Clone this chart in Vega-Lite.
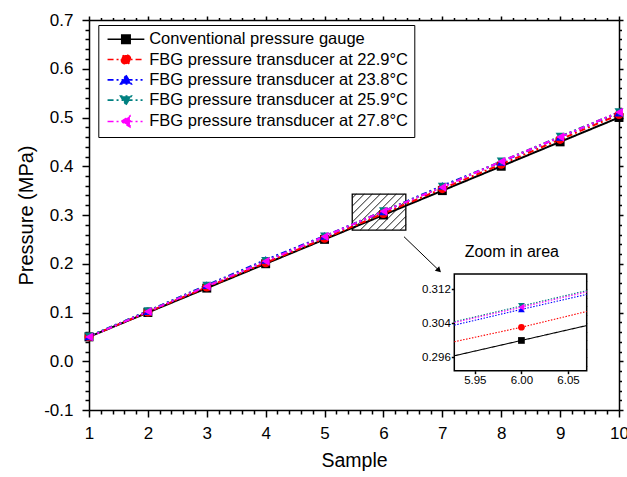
{
  "$schema": "https://vega.github.io/schema/vega-lite/v6.json",
  "width": 530,
  "height": 390,
  "autosize": {"type": "none"},
  "padding": {"left": 89, "top": 20, "right": 8, "bottom": 67},
  "background": "white",
  "config": {
    "font": "Liberation Sans",
    "view": {"stroke": null},
    "axis": {"grid": false, "domainColor": "#000000", "domainWidth": 1.5, "tickColor": "#000000", "tickWidth": 1.5, "labelColor": "#000000", "titleColor": "#000000", "labelFont": "Liberation Sans", "titleFont": "Liberation Sans", "titleFontWeight": "normal", "labelFlush": false, "labelOverlap": false},
    "legend": {"labelFont": "Liberation Sans", "labelColor": "#000000"}
  },
  "datasets": {
    "main": [
      {"s": "Conventional pressure gauge", "x": 1, "y": 0.05}, {"s": "Conventional pressure gauge", "x": 2, "y": 0.10}, {"s": "Conventional pressure gauge", "x": 3, "y": 0.15}, {"s": "Conventional pressure gauge", "x": 4, "y": 0.20}, {"s": "Conventional pressure gauge", "x": 5, "y": 0.25}, {"s": "Conventional pressure gauge", "x": 6, "y": 0.300}, {"s": "Conventional pressure gauge", "x": 7, "y": 0.35}, {"s": "Conventional pressure gauge", "x": 8, "y": 0.40}, {"s": "Conventional pressure gauge", "x": 9, "y": 0.45}, {"s": "Conventional pressure gauge", "x": 10, "y": 0.50},
      {"s": "FBG pressure transducer at 22.9°C", "x": 1, "y": 0.050}, {"s": "FBG pressure transducer at 22.9°C", "x": 2, "y": 0.101}, {"s": "FBG pressure transducer at 22.9°C", "x": 3, "y": 0.152}, {"s": "FBG pressure transducer at 22.9°C", "x": 4, "y": 0.202}, {"s": "FBG pressure transducer at 22.9°C", "x": 5, "y": 0.252}, {"s": "FBG pressure transducer at 22.9°C", "x": 6, "y": 0.3031}, {"s": "FBG pressure transducer at 22.9°C", "x": 7, "y": 0.354}, {"s": "FBG pressure transducer at 22.9°C", "x": 8, "y": 0.404}, {"s": "FBG pressure transducer at 22.9°C", "x": 9, "y": 0.455}, {"s": "FBG pressure transducer at 22.9°C", "x": 10, "y": 0.506},
      {"s": "FBG pressure transducer at 23.8°C", "x": 1, "y": 0.051}, {"s": "FBG pressure transducer at 23.8°C", "x": 2, "y": 0.103}, {"s": "FBG pressure transducer at 23.8°C", "x": 3, "y": 0.156}, {"s": "FBG pressure transducer at 23.8°C", "x": 4, "y": 0.208}, {"s": "FBG pressure transducer at 23.8°C", "x": 5, "y": 0.257}, {"s": "FBG pressure transducer at 23.8°C", "x": 6, "y": 0.3073}, {"s": "FBG pressure transducer at 23.8°C", "x": 7, "y": 0.360}, {"s": "FBG pressure transducer at 23.8°C", "x": 8, "y": 0.409}, {"s": "FBG pressure transducer at 23.8°C", "x": 9, "y": 0.460}, {"s": "FBG pressure transducer at 23.8°C", "x": 10, "y": 0.510},
      {"s": "FBG pressure transducer at 25.9°C", "x": 1, "y": 0.051}, {"s": "FBG pressure transducer at 25.9°C", "x": 2, "y": 0.103}, {"s": "FBG pressure transducer at 25.9°C", "x": 3, "y": 0.155}, {"s": "FBG pressure transducer at 25.9°C", "x": 4, "y": 0.206}, {"s": "FBG pressure transducer at 25.9°C", "x": 5, "y": 0.256}, {"s": "FBG pressure transducer at 25.9°C", "x": 6, "y": 0.3081}, {"s": "FBG pressure transducer at 25.9°C", "x": 7, "y": 0.358}, {"s": "FBG pressure transducer at 25.9°C", "x": 8, "y": 0.410}, {"s": "FBG pressure transducer at 25.9°C", "x": 9, "y": 0.461}, {"s": "FBG pressure transducer at 25.9°C", "x": 10, "y": 0.511},
      {"s": "FBG pressure transducer at 27.8°C", "x": 1, "y": 0.050}, {"s": "FBG pressure transducer at 27.8°C", "x": 2, "y": 0.102}, {"s": "FBG pressure transducer at 27.8°C", "x": 3, "y": 0.154}, {"s": "FBG pressure transducer at 27.8°C", "x": 4, "y": 0.205}, {"s": "FBG pressure transducer at 27.8°C", "x": 5, "y": 0.256}, {"s": "FBG pressure transducer at 27.8°C", "x": 6, "y": 0.3078}, {"s": "FBG pressure transducer at 27.8°C", "x": 7, "y": 0.357}, {"s": "FBG pressure transducer at 27.8°C", "x": 8, "y": 0.410}, {"s": "FBG pressure transducer at 27.8°C", "x": 9, "y": 0.460}, {"s": "FBG pressure transducer at 27.8°C", "x": 10, "y": 0.511}
    ],
    "inset": [
      {"s": "Conventional pressure gauge", "x": 5.928, "y": 0.2964}, {"s": "Conventional pressure gauge", "x": 6.0, "y": 0.3000}, {"s": "Conventional pressure gauge", "x": 6.07, "y": 0.3035},
      {"s": "FBG pressure transducer at 22.9°C", "x": 5.928, "y": 0.2997}, {"s": "FBG pressure transducer at 22.9°C", "x": 6.0, "y": 0.3031}, {"s": "FBG pressure transducer at 22.9°C", "x": 6.07, "y": 0.3068},
      {"s": "FBG pressure transducer at 23.8°C", "x": 5.928, "y": 0.3036}, {"s": "FBG pressure transducer at 23.8°C", "x": 6.0, "y": 0.3073}, {"s": "FBG pressure transducer at 23.8°C", "x": 6.07, "y": 0.3108},
      {"s": "FBG pressure transducer at 25.9°C", "x": 5.928, "y": 0.3044}, {"s": "FBG pressure transducer at 25.9°C", "x": 6.0, "y": 0.3081}, {"s": "FBG pressure transducer at 25.9°C", "x": 6.07, "y": 0.3117},
      {"s": "FBG pressure transducer at 27.8°C", "x": 5.928, "y": 0.3042}, {"s": "FBG pressure transducer at 27.8°C", "x": 6.0, "y": 0.3078}, {"s": "FBG pressure transducer at 27.8°C", "x": 6.07, "y": 0.3114}
    ],
    "box": [{"x1": 5.47, "x2": 6.38, "y1": 0.269, "y2": 0.343}],
    "hatch": [
      {"x1": 5.47, "y1": 0.3346, "x2": 5.5396, "y2": 0.343},
      {"x1": 5.47, "y1": 0.3182, "x2": 5.6755, "y2": 0.343},
      {"x1": 5.47, "y1": 0.3018, "x2": 5.8113, "y2": 0.343},
      {"x1": 5.47, "y1": 0.2854, "x2": 5.9472, "y2": 0.343},
      {"x1": 5.47, "y1": 0.269, "x2": 6.083, "y2": 0.343},
      {"x1": 5.6058, "y1": 0.269, "x2": 6.2189, "y2": 0.343},
      {"x1": 5.7417, "y1": 0.269, "x2": 6.3547, "y2": 0.343},
      {"x1": 5.8775, "y1": 0.269, "x2": 6.38, "y2": 0.3297},
      {"x1": 6.0134, "y1": 0.269, "x2": 6.38, "y2": 0.3133},
      {"x1": 6.1492, "y1": 0.269, "x2": 6.38, "y2": 0.2969},
      {"x1": 6.2851, "y1": 0.269, "x2": 6.38, "y2": 0.2805}
    ],
    "arrow": [{"x1": 6.349, "y1": 0.2555, "x2": 6.943, "y2": 0.1864}],
    "note": [{"x": 8.18, "y": 0.224, "t": "Zoom in area"}],
    "insetbox": [{"x1": 5.928, "x2": 6.07, "y1": 0.2929, "y2": 0.3156}]
  },
  "layer": [
    {
      "layer": [
        {
          "data": {"name": "box"},
          "mark": {"type": "rect", "fill": "transparent", "stroke": "#000000", "strokeWidth": 1.3},
          "encoding": {
            "x": {"field": "x1", "type": "quantitative", "scale": {"domain": [1, 10], "nice": false, "zero": false}, "axis": null},
            "x2": {"field": "x2"},
            "y": {"field": "y1", "type": "quantitative", "scale": {"domain": [-0.1, 0.7], "nice": false, "zero": false}, "axis": null},
            "y2": {"field": "y2"}
          }
        },
        {
          "data": {"name": "hatch"},
          "mark": {"type": "rule", "color": "#000000", "strokeWidth": 0.9},
          "encoding": {
            "x": {"field": "x1", "type": "quantitative", "scale": {"domain": [1, 10], "nice": false, "zero": false}, "axis": null},
            "x2": {"field": "x2"},
            "y": {"field": "y1", "type": "quantitative", "scale": {"domain": [-0.1, 0.7], "nice": false, "zero": false}, "axis": null},
            "y2": {"field": "y2"}
          }
        },
        {
          "data": {"name": "arrow"},
          "mark": {"type": "rule", "color": "#000000", "strokeWidth": 1},
          "encoding": {
            "x": {"field": "x1", "type": "quantitative", "scale": {"domain": [1, 10], "nice": false, "zero": false}, "axis": null},
            "x2": {"field": "x2"},
            "y": {"field": "y1", "type": "quantitative", "scale": {"domain": [-0.1, 0.7], "nice": false, "zero": false}, "axis": null},
            "y2": {"field": "y2"}
          }
        },
        {
          "data": {"name": "arrow"},
          "mark": {"type": "point", "shape": "triangle-up", "filled": true, "color": "#000000", "size": 40, "angle": 134, "opacity": 1},
          "encoding": {
            "x": {"field": "x2", "type": "quantitative", "scale": {"domain": [1, 10], "nice": false, "zero": false}, "axis": null},
            "y": {"field": "y2", "type": "quantitative", "scale": {"domain": [-0.1, 0.7], "nice": false, "zero": false}, "axis": null}
          }
        },
        {
          "data": {"name": "note"},
          "mark": {"type": "text", "font": "Liberation Sans", "fontSize": 16, "color": "#000000", "align": "center", "baseline": "middle"},
          "encoding": {
            "x": {"field": "x", "type": "quantitative", "scale": {"domain": [1, 10], "nice": false, "zero": false}, "axis": null},
            "y": {"field": "y", "type": "quantitative", "scale": {"domain": [-0.1, 0.7], "nice": false, "zero": false}, "axis": null},
            "text": {"field": "t"}
          }
        },
        {
          "data": {"name": "main"},
          "mark": {"type": "line", "strokeWidth": 2},
          "encoding": {
            "x": {"field": "x", "type": "quantitative", "scale": {"domain": [1, 10], "nice": false, "zero": false}, "axis": null},
            "y": {"field": "y", "type": "quantitative", "scale": {"domain": [-0.1, 0.7], "nice": false, "zero": false}, "axis": null},
            "color": {"field": "s", "type": "nominal", "scale": {"domain": ["Conventional pressure gauge", "FBG pressure transducer at 22.9°C", "FBG pressure transducer at 23.8°C", "FBG pressure transducer at 25.9°C", "FBG pressure transducer at 27.8°C"], "range": ["#000000", "#ff0000", "#0000ff", "#008080", "#ff00ff"]}, "legend": null},
            "strokeDash": {"field": "s", "type": "nominal", "scale": {"domain": ["Conventional pressure gauge", "FBG pressure transducer at 22.9°C", "FBG pressure transducer at 23.8°C", "FBG pressure transducer at 25.9°C", "FBG pressure transducer at 27.8°C"], "range": [[1, 0], [6, 3, 2, 3], [6, 3, 2, 3, 2, 3], [6, 3, 2, 3, 2, 3], [6, 3, 2, 3, 2, 3]]}, "legend": null}
          }
        },
        {
          "data": {"name": "main"},
          "mark": {"type": "point", "filled": true, "size": 80, "opacity": 1},
          "encoding": {
            "x": {"field": "x", "type": "quantitative", "scale": {"domain": [1, 10], "nice": false, "zero": false}, "axis": null},
            "y": {"field": "y", "type": "quantitative", "scale": {"domain": [-0.1, 0.7], "nice": false, "zero": false}, "axis": null},
            "color": {"field": "s", "type": "nominal", "scale": {"domain": ["Conventional pressure gauge", "FBG pressure transducer at 22.9°C", "FBG pressure transducer at 23.8°C", "FBG pressure transducer at 25.9°C", "FBG pressure transducer at 27.8°C"], "range": ["#000000", "#ff0000", "#0000ff", "#008080", "#ff00ff"]}, "legend": null},
            "shape": {"field": "s", "type": "nominal", "scale": {"domain": ["Conventional pressure gauge", "FBG pressure transducer at 22.9°C", "FBG pressure transducer at 23.8°C", "FBG pressure transducer at 25.9°C", "FBG pressure transducer at 27.8°C"], "range": ["square", "circle", "triangle-up", "triangle-down", "triangle-left"]}, "legend": null}
          }
        },
        {
          "data": {"name": "main"},
          "mark": {"type": "point", "filled": true, "opacity": 0},
          "encoding": {
            "x": {"field": "x", "type": "quantitative", "scale": {"domain": [1, 10], "nice": false, "zero": false}, "axis": null},
            "y": {"field": "y", "type": "quantitative", "scale": {"domain": [-0.1, 0.7], "nice": false, "zero": false}, "axis": null},
            "color": {"field": "s", "type": "nominal", "scale": {"domain": ["Conventional pressure gauge", "FBG pressure transducer at 22.9°C", "FBG pressure transducer at 23.8°C", "FBG pressure transducer at 25.9°C", "FBG pressure transducer at 27.8°C"], "range": ["#000000", "#ff0000", "#0000ff", "#008080", "#ff00ff"]},
              "legend": {"title": null, "orient": "none", "legendX": 9.3, "legendY": 5, "padding": 6, "strokeColor": "#000000", "fillColor": "#ffffff", "labelFontSize": 16.5, "labelLimit": 500, "symbolSize": 64, "symbolOffset": 13.4, "labelOffset": 15, "rowPadding": 3.3, "symbolStrokeWidth": 1.6, "symbolOpacity": 1,
                "encode": {"symbols": {"update": {"stroke": {"signal": "['#000000','#ff0000','#0000ff','#008080','#ff00ff'][indexof(['Conventional pressure gauge','FBG pressure transducer at 22.9°C','FBG pressure transducer at 23.8°C','FBG pressure transducer at 25.9°C','FBG pressure transducer at 27.8°C'], datum.value)]"}}}}}},
            "shape": {"field": "s", "type": "nominal", "scale": {"domain": ["Conventional pressure gauge", "FBG pressure transducer at 22.9°C", "FBG pressure transducer at 23.8°C", "FBG pressure transducer at 25.9°C", "FBG pressure transducer at 27.8°C"], "range": ["M-4.6,0H4.6M-1.05,-1.05H1.05V1.05H-1.05Z", "M-4.6,0H4.6M-1.15,0A1.15,1.15,0,1,0,1.15,0A1.15,1.15,0,1,0,-1.15,0Z", "M-4.6,0H4.6M0,-1.15L1.35,1H-1.35Z", "M-4.6,0H4.6M0,1.15L1.35,-1H-1.35Z", "M-4.6,0H4.6M-1.15,0L1,-1.35V1.35Z"]}, "legend": {"title": null}},
            "strokeDash": {"field": "s", "type": "nominal", "scale": {"domain": ["Conventional pressure gauge", "FBG pressure transducer at 22.9°C", "FBG pressure transducer at 23.8°C", "FBG pressure transducer at 25.9°C", "FBG pressure transducer at 27.8°C"], "range": [[1, 0], [6, 3, 2, 3], [6, 3, 2, 3, 2, 3], [6, 3, 2, 3, 2, 3], [6, 3, 2, 3, 2, 3]]}, "legend": {"title": null}}
          }
        },
        {
          "data": {"name": "main"},
          "mark": {"type": "point", "opacity": 0},
          "encoding": {
            "x": {"field": "x", "type": "quantitative", "scale": {"domain": [1, 10], "nice": false, "zero": false},
              "axis": {"orient": "bottom", "values": [1, 2, 3, 4, 5, 6, 7, 8, 9, 10], "format": "d", "labelFontSize": 17, "tickSize": 7, "labelPadding": 8, "title": "Sample", "titleFontSize": 19.5, "titlePadding": 10}},
            "y": {"field": "y", "type": "quantitative", "scale": {"domain": [-0.1, 0.7], "nice": false, "zero": false},
              "axis": {"orient": "left", "values": [-0.1, 0, 0.1, 0.2, 0.3, 0.4, 0.5, 0.6, 0.7], "labelExpr": "replace(format(datum.value, '.1f'), '\u2212', '-')", "labelFontSize": 17, "tickSize": 7, "labelPadding": 9, "title": "Pressure (MPa)", "titleFontSize": 20, "titlePadding": 7}}
          }
        },
        {
          "data": {"name": "main"},
          "mark": {"type": "point", "opacity": 0},
          "encoding": {
            "x": {"field": "x", "type": "quantitative", "scale": {"domain": [1, 10], "nice": false, "zero": false},
              "axis": {"orient": "bottom", "values": [1.2, 1.4, 1.6, 1.8, 2.2, 2.4, 2.6, 2.8, 3.2, 3.4, 3.6, 3.8, 4.2, 4.4, 4.6, 4.8, 5.2, 5.4, 5.6, 5.8, 6.2, 6.4, 6.6, 6.8, 7.2, 7.4, 7.6, 7.8, 8.2, 8.4, 8.6, 8.8, 9.2, 9.4, 9.6, 9.8], "labels": false, "domain": false, "tickSize": 4, "title": null}},
            "y": {"field": "y", "type": "quantitative", "scale": {"domain": [-0.1, 0.7], "nice": false, "zero": false},
              "axis": {"orient": "left", "values": [-0.08, -0.06, -0.04, -0.02, 0.02, 0.04, 0.06, 0.08, 0.12, 0.14, 0.16, 0.18, 0.22, 0.24, 0.26, 0.28, 0.32, 0.34, 0.36, 0.38, 0.42, 0.44, 0.46, 0.48, 0.52, 0.54, 0.56, 0.58, 0.62, 0.64, 0.66, 0.68], "labels": false, "domain": false, "tickSize": 4, "title": null}}
          }
        },
        {
          "data": {"name": "main"},
          "mark": {"type": "point", "opacity": 0},
          "encoding": {
            "x": {"field": "x", "type": "quantitative", "scale": {"domain": [1, 10], "nice": false, "zero": false},
              "axis": {"orient": "top", "values": [1, 2, 3, 4, 5, 6, 7, 8, 9, 10], "labels": false, "tickSize": 4, "title": null}},
            "y": {"field": "y", "type": "quantitative", "scale": {"domain": [-0.1, 0.7], "nice": false, "zero": false},
              "axis": {"orient": "right", "values": [-0.1, 0, 0.1, 0.2, 0.3, 0.4, 0.5, 0.6, 0.7], "labels": false, "tickSize": 4, "title": null}}
          }
        },
        {
          "data": {"name": "main"},
          "mark": {"type": "point", "opacity": 0},
          "encoding": {
            "x": {"field": "x", "type": "quantitative", "scale": {"domain": [1, 10], "nice": false, "zero": false},
              "axis": {"orient": "top", "values": [1.2, 1.4, 1.6, 1.8, 2.2, 2.4, 2.6, 2.8, 3.2, 3.4, 3.6, 3.8, 4.2, 4.4, 4.6, 4.8, 5.2, 5.4, 5.6, 5.8, 6.2, 6.4, 6.6, 6.8, 7.2, 7.4, 7.6, 7.8, 8.2, 8.4, 8.6, 8.8, 9.2, 9.4, 9.6, 9.8], "labels": false, "domain": false, "tickSize": 2.5, "title": null}},
            "y": {"field": "y", "type": "quantitative", "scale": {"domain": [-0.1, 0.7], "nice": false, "zero": false},
              "axis": {"orient": "right", "values": [-0.08, -0.06, -0.04, -0.02, 0.02, 0.04, 0.06, 0.08, 0.12, 0.14, 0.16, 0.18, 0.22, 0.24, 0.26, 0.28, 0.32, 0.34, 0.36, 0.38, 0.42, 0.44, 0.46, 0.48, 0.52, 0.54, 0.56, 0.58, 0.62, 0.64, 0.66, 0.68], "labels": false, "domain": false, "tickSize": 2.5, "title": null}}
          }
        }
      ],
      "resolve": {
        "scale": {"color": "independent", "shape": "independent", "strokeDash": "independent"},
        "axis": {"x": "independent", "y": "independent"}
      }
    },
    {
      "layer": [
        {
          "data": {"name": "insetbox"},
          "mark": {"type": "rect", "fill": "#ffffff", "stroke": "#000000", "strokeWidth": 1.5},
          "encoding": {
            "x": {"field": "x1", "type": "quantitative", "scale": {"domain": [5.928, 6.07], "range": [365.3, 497.7], "nice": false, "zero": false}, "axis": null},
            "x2": {"field": "x2"},
            "y": {"field": "y1", "type": "quantitative", "scale": {"domain": [0.2929, 0.3156], "range": [350.7, 254], "nice": false, "zero": false}, "axis": null},
            "y2": {"field": "y2"}
          }
        },
        {
          "data": {"name": "inset"},
          "mark": {"type": "line", "strokeWidth": 1.1},
          "encoding": {
            "x": {"field": "x", "type": "quantitative", "scale": {"domain": [5.928, 6.07], "range": [365.3, 497.7], "nice": false, "zero": false}, "axis": null},
            "y": {"field": "y", "type": "quantitative", "scale": {"domain": [0.2929, 0.3156], "range": [350.7, 254], "nice": false, "zero": false}, "axis": null},
            "color": {"field": "s", "type": "nominal", "scale": {"domain": ["Conventional pressure gauge", "FBG pressure transducer at 22.9°C", "FBG pressure transducer at 23.8°C", "FBG pressure transducer at 25.9°C", "FBG pressure transducer at 27.8°C"], "range": ["#000000", "#ff0000", "#0000ff", "#008080", "#ff00ff"]}, "legend": null},
            "strokeDash": {"field": "s", "type": "nominal", "scale": {"domain": ["Conventional pressure gauge", "FBG pressure transducer at 22.9°C", "FBG pressure transducer at 23.8°C", "FBG pressure transducer at 25.9°C", "FBG pressure transducer at 27.8°C"], "range": [[1, 0], [1.5, 1.5], [1.5, 1.5], [1.5, 1.5], [1.5, 1.5]]}, "legend": null}
          }
        },
        {
          "data": {"name": "inset"},
          "transform": [{"filter": "datum.x == 6"}],
          "mark": {"type": "point", "filled": true, "size": 45, "opacity": 1},
          "encoding": {
            "x": {"field": "x", "type": "quantitative", "scale": {"domain": [5.928, 6.07], "range": [365.3, 497.7], "nice": false, "zero": false}, "axis": null},
            "y": {"field": "y", "type": "quantitative", "scale": {"domain": [0.2929, 0.3156], "range": [350.7, 254], "nice": false, "zero": false}, "axis": null},
            "color": {"field": "s", "type": "nominal", "scale": {"domain": ["Conventional pressure gauge", "FBG pressure transducer at 22.9°C", "FBG pressure transducer at 23.8°C", "FBG pressure transducer at 25.9°C", "FBG pressure transducer at 27.8°C"], "range": ["#000000", "#ff0000", "#0000ff", "#008080", "#ff00ff"]}, "legend": null},
            "shape": {"field": "s", "type": "nominal", "scale": {"domain": ["Conventional pressure gauge", "FBG pressure transducer at 22.9°C", "FBG pressure transducer at 23.8°C", "FBG pressure transducer at 25.9°C", "FBG pressure transducer at 27.8°C"], "range": ["square", "circle", "triangle-up", "triangle-down", "triangle-left"]}, "legend": null}
          }
        },
        {
          "data": {"name": "inset"},
          "mark": {"type": "point", "opacity": 0},
          "encoding": {
            "x": {"field": "x", "type": "quantitative", "scale": {"domain": [5.928, 6.07], "range": [365.3, 497.7], "nice": false, "zero": false},
              "axis": {"orient": "bottom", "offset": -39.3, "values": [5.95, 6.0, 6.05], "format": ".2f", "labelFontSize": 11.5, "tickSize": 3, "labelPadding": 1, "domain": false, "title": null}},
            "y": {"field": "y", "type": "quantitative", "scale": {"domain": [0.2929, 0.3156], "range": [350.7, 254], "nice": false, "zero": false},
              "axis": {"orient": "left", "offset": -365.3, "values": [0.296, 0.304, 0.312], "format": ".3f", "labelFontSize": 11.5, "tickSize": 3, "labelPadding": 1, "domain": false, "title": null}}
          }
        },
        {
          "data": {"name": "inset"},
          "mark": {"type": "point", "opacity": 0},
          "encoding": {
            "x": {"field": "x", "type": "quantitative", "scale": {"domain": [5.928, 6.07], "range": [365.3, 497.7], "nice": false, "zero": false}, "axis": null},
            "y": {"field": "y", "type": "quantitative", "scale": {"domain": [0.2929, 0.3156], "range": [350.7, 254], "nice": false, "zero": false},
              "axis": {"orient": "right", "offset": -32.3, "values": [0.294, 0.296, 0.298, 0.3, 0.302, 0.304, 0.306, 0.308, 0.31, 0.312, 0.314], "labels": false, "tickSize": -3, "tickWidth": 1, "domain": false, "title": null}}
          }
        }
      ],
      "resolve": {"axis": {"x": "independent", "y": "independent"}}
    }
  ],
  "resolve": {
    "scale": {"x": "independent", "y": "independent", "color": "independent", "shape": "independent", "strokeDash": "independent"}
  }
}
